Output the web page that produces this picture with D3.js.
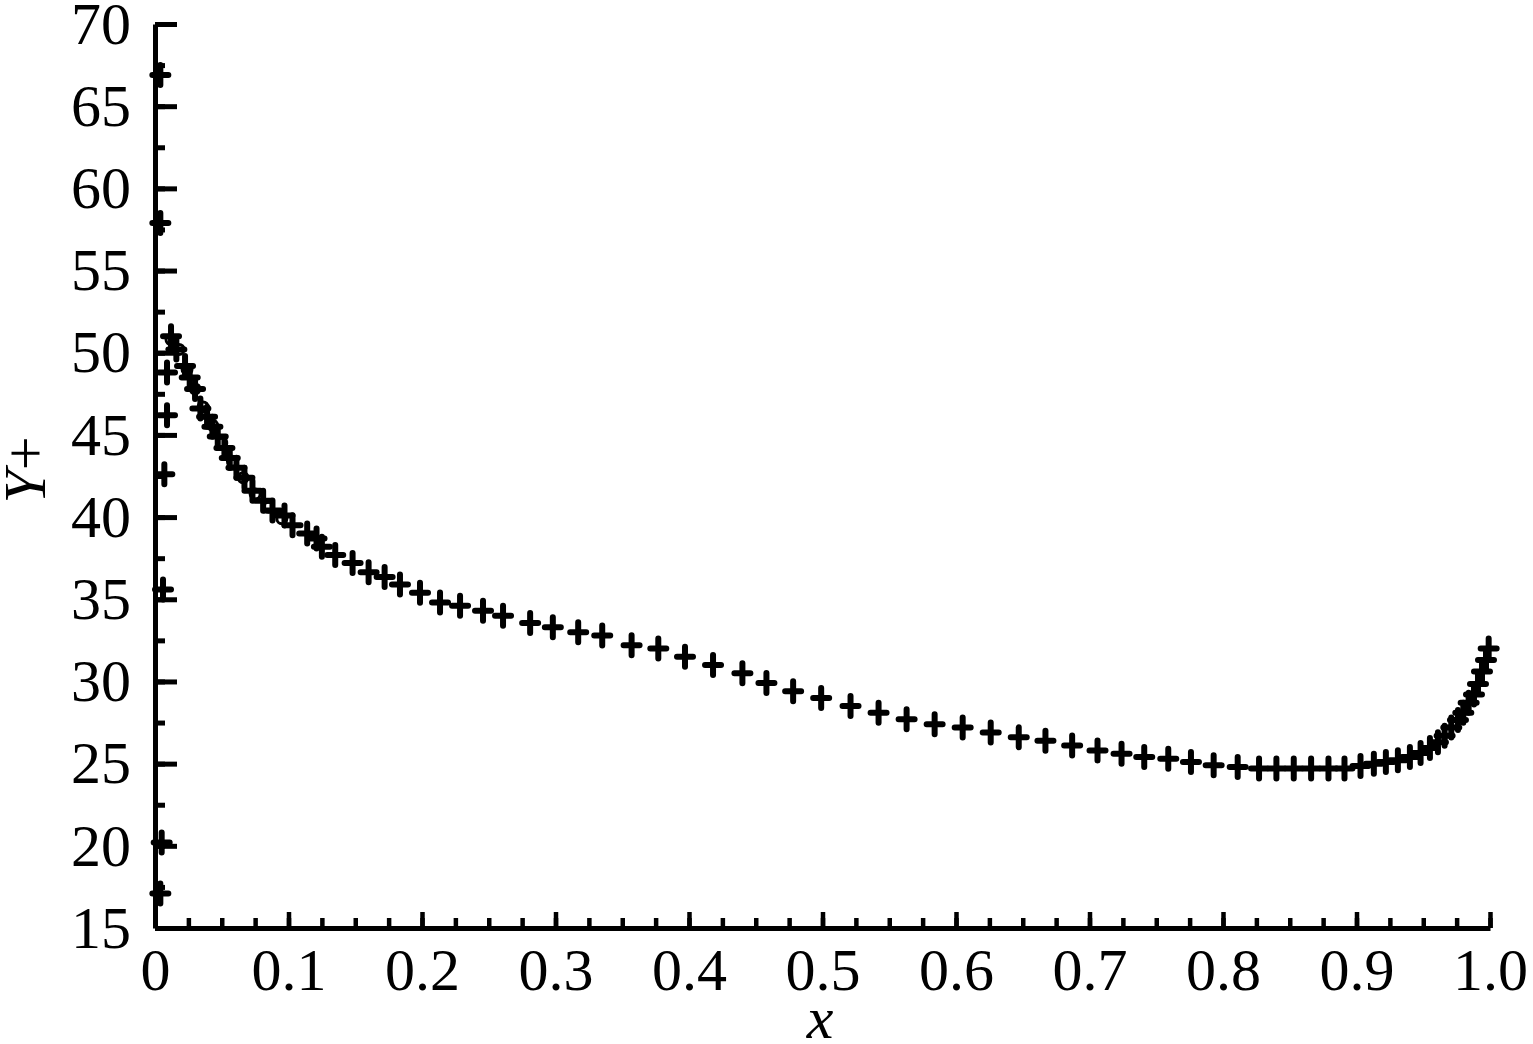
<!DOCTYPE html>
<html>
<head>
<meta charset="utf-8">
<script src="https://cdn.jsdelivr.net/npm/d3@7"></script>
<style>
  body { margin: 0; background: #fff; }
  svg { display: block; }
  .tick text { font-family: "Liberation Serif", "Times New Roman", serif; font-size: 60px; fill: #000; }
</style>
</head>
<body>
<svg id="chart" width="1533" height="1044"></svg>
<script>
// main series (+ markers)
var xMain = [0.012, 0.016, 0.0225, 0.026, 0.030, 0.034, 0.039, 0.043, 0.047, 0.052, 0.056, 0.061, 0.067, 0.073, 0.081, 0.088, 0.097, 0.103, 0.114, 0.121,
             0.125, 0.135, 0.148, 0.160, 0.172, 0.1835, 0.1985, 0.2135, 0.2285, 0.2457, 0.2607, 0.281, 0.298, 0.317, 0.335, 0.357, 0.377, 0.397, 0.418, 0.440,
             0.458, 0.478, 0.499, 0.521, 0.542, 0.563, 0.584, 0.605, 0.626, 0.647, 0.667, 0.687, 0.706, 0.724, 0.741, 0.759, 0.776, 0.793, 0.811,
             0.827, 0.840, 0.853, 0.866, 0.879, 0.891, 0.903, 0.913, 0.922, 0.931, 0.940, 0.948, 0.955, 0.961, 0.966, 0.971, 0.976, 0.980, 0.984, 0.988, 0.991, 0.994, 0.997, 0.999];
var yMain = [51.0, 50.2, 49.2, 48.5, 47.8, 46.6, 46.1, 45.5, 44.9, 44.2, 43.6, 43.0, 42.4, 41.6, 41.0, 40.4, 40.1, 39.5, 39.0, 38.7,
             38.2, 37.7, 37.2, 36.65, 36.35, 35.9, 35.4, 34.8, 34.6, 34.3, 34.0, 33.55, 33.3, 33.0, 32.8, 32.2, 32.0, 31.5, 31.0, 30.5,
             29.9, 29.4, 29.0, 28.5, 28.1, 27.7, 27.4, 27.2, 26.9, 26.6, 26.4, 26.1, 25.8, 25.6, 25.4, 25.3, 25.1, 24.9, 24.8,
             24.7, 24.7, 24.7, 24.7, 24.7, 24.7, 24.85, 25.0, 25.1, 25.2, 25.4, 25.65, 25.95, 26.3, 26.7, 27.2, 27.65, 28.1, 28.7, 29.2, 29.85, 30.6, 31.3, 32.0];

// scattered points right at the leading edge
var xLead = [0.004, 0.005, 0.006, 0.007, 0.009, 0.009, 0.004, 0.004];
var yLead = [17.1, 20.2, 35.6, 42.6, 46.2, 48.8, 57.9, 66.9];

// second series (open circles), overlapping near the peak
var xCirc = [0.012, 0.018, 0.024, 0.030, 0.036, 0.043, 0.050, 0.058, 0.066, 0.075, 0.085, 0.095];
var yCirc = [50.8, 50.2, 49.0, 47.8, 46.7, 45.6, 44.5, 43.4, 42.4, 41.4, 40.6, 39.9];

var xMajor = [0, 0.1, 0.2, 0.3, 0.4, 0.5, 0.6, 0.7, 0.8, 0.9, 1.0];
var yMajor = [15, 20, 25, 30, 35, 40, 45, 50, 55, 60, 65, 70];

var svg = d3.select("#chart");

var x = d3.scaleLinear().domain([0, 1]).range([155, 1490]);
var y = d3.scaleLinear().domain([15, 70]).range([928, 24]);

var xMinor = d3.range(0, 1.0001, 0.025);
var yMinor = d3.range(15, 70.001, 2.5);

// minor ticks
svg.append("g")
    .attr("transform", "translate(0,928)")
    .call(d3.axisBottom(x).tickValues(xMinor).tickSize(-10).tickSizeOuter(0).tickFormat(""))
    .call(function(g) { g.select(".domain").remove(); g.selectAll("line").attr("stroke-width", 4.5); });
svg.append("g")
    .attr("transform", "translate(155,0)")
    .call(d3.axisLeft(y).tickValues(yMinor).tickSize(-10).tickSizeOuter(0).tickFormat(""))
    .call(function(g) { g.select(".domain").remove(); g.selectAll("line").attr("stroke-width", 5); });

// major ticks + labels
svg.append("g")
    .attr("transform", "translate(0,928)")
    .call(d3.axisBottom(x).tickValues(xMajor).tickSize(-16).tickSizeOuter(0).tickPadding(19)
        .tickFormat(function(d) { return d === 0 ? "0" : d3.format(".1f")(d); }))
    .call(function(g) {
        g.select(".domain").attr("stroke-width", 5);
        g.selectAll("line").attr("stroke-width", 4.5);
        g.selectAll("text").attr("dy", "0.71em");
    });
svg.append("g")
    .attr("transform", "translate(155,0)")
    .call(d3.axisLeft(y).tickValues(yMajor).tickSize(-22).tickSizeOuter(0).tickPadding(24))
    .call(function(g) {
        g.select(".domain").attr("stroke-width", 5);
        g.selectAll("line").attr("stroke-width", 5);
    });

// markers
var plus = "M-8,0H8M0,-10V10";
var main = d3.range(xMain.length).map(function(i) { return [xMain[i], yMain[i]]; });
var lead = d3.range(xLead.length).map(function(i) { return [xLead[i], yLead[i]]; });
var circ = d3.range(xCirc.length).map(function(i) { return [xCirc[i], yCirc[i]]; });

svg.append("g").selectAll("path")
    .data(lead.concat(main))
    .enter().append("path")
    .attr("d", plus)
    .attr("transform", function(d) { return "translate(" + x(d[0]) + "," + y(d[1]) + ")"; })
    .attr("stroke", "#000")
    .attr("stroke-width", 6)
    .attr("stroke-linecap", "round")
    .attr("fill", "none");

svg.append("g").selectAll("circle")
    .data(circ)
    .enter().append("circle")
    .attr("cx", function(d) { return x(d[0]); })
    .attr("cy", function(d) { return y(d[1]); })
    .attr("r", 5)
    .attr("fill", "none")
    .attr("stroke", "#000")
    .attr("stroke-width", 3);

// axis titles
svg.append("text")
    .attr("x", 820)
    .attr("y", 1038)
    .attr("text-anchor", "middle")
    .style("font-family", "'Liberation Serif', serif")
    .style("font-size", "60px")
    .style("font-style", "italic")
    .text("x");

var yt = svg.append("text")
    .attr("transform", "translate(45,470) rotate(-90)")
    .attr("text-anchor", "middle")
    .style("font-family", "'Liberation Serif', serif")
    .style("font-size", "60px");
yt.append("tspan").style("font-style", "italic").text("Y");
yt.append("tspan").text("+");
</script>
</body>
</html>
